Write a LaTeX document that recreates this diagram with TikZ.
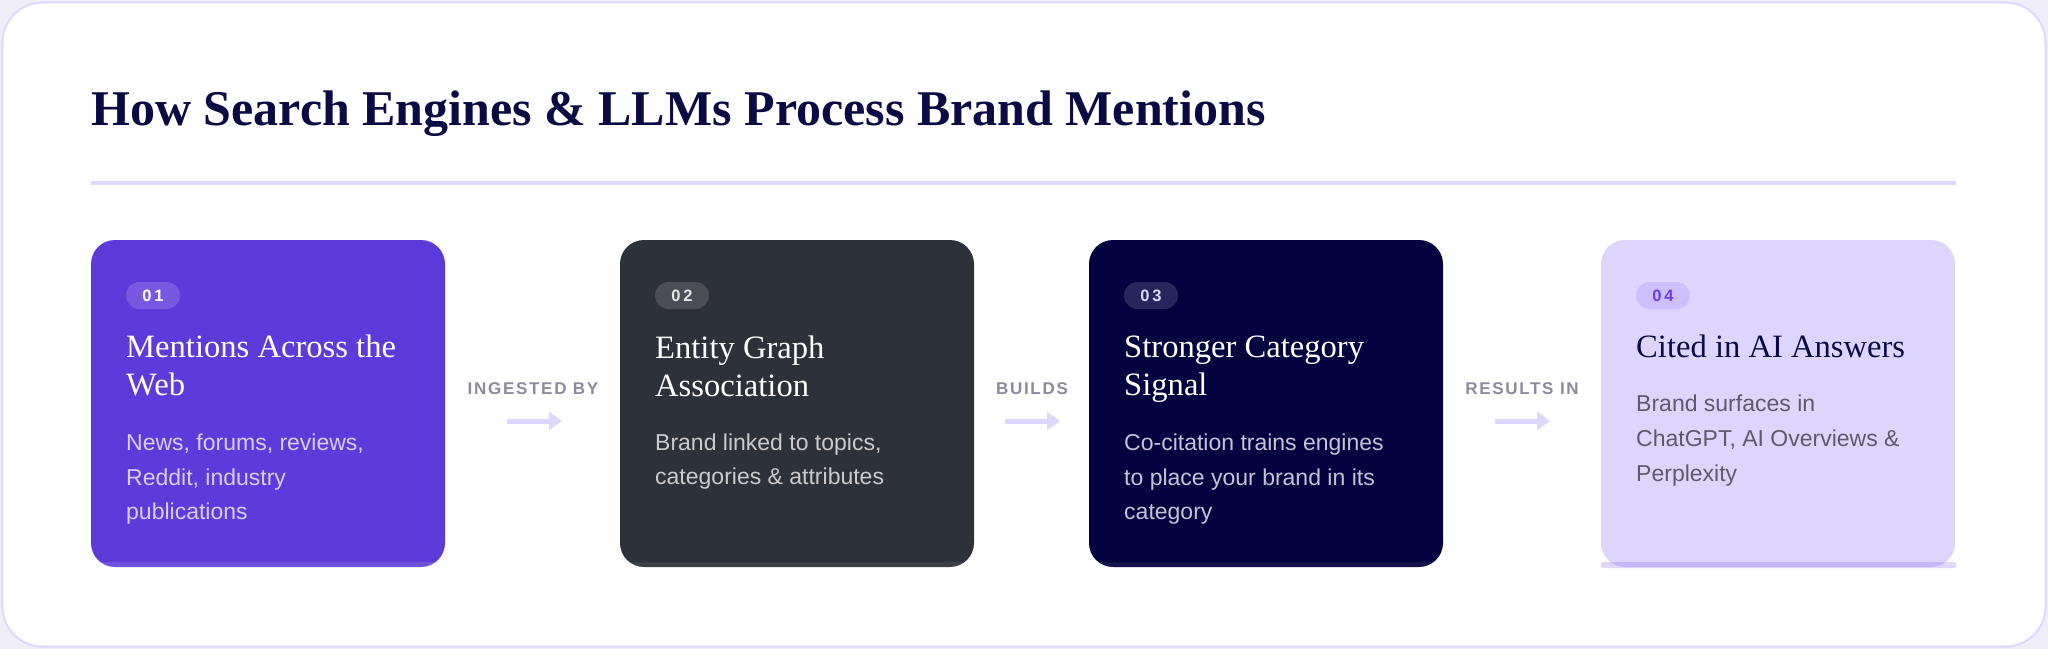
\documentclass[tikz,border=0pt]{standalone}
\usepackage{fontspec}
\setmainfont{Liberation Serif}
\setsansfont{Liberation Sans}
\newfontfamily\lblfont[LetterSpace=10]{Liberation Sans}
\newfontfamily\badgefont[LetterSpace=18]{Liberation Sans}
\usetikzlibrary{arrows.meta}
\definecolor{pageBg}{HTML}{EFEEF8}
\definecolor{frameLine}{HTML}{DDD6FE}
\definecolor{titleInk}{HTML}{0B0A44}
\definecolor{cardA}{HTML}{5D3BDB}
\definecolor{cardB}{HTML}{2D3139}
\definecolor{cardC}{HTML}{030340}
\definecolor{cardD}{HTML}{DDD5FE}
\definecolor{badgeA}{HTML}{7758E1}
\definecolor{badgeB}{HTML}{4B4E56}
\definecolor{badgeC}{HTML}{25265C}
\definecolor{badgeD}{HTML}{CDBFFC}
\definecolor{badgeDInk}{HTML}{6A3DE8}
\definecolor{bodyA}{HTML}{D6CEF6}
\definecolor{bodyB}{HTML}{CBCBCE}
\definecolor{bodyC}{HTML}{C3C3D3}
\definecolor{bodyD}{HTML}{5F5A6A}
\definecolor{labelInk}{HTML}{8F8A9B}
\definecolor{stripD}{HTML}{7C5CEE}
\begin{document}
\begin{tikzpicture}[x=1bp,y=-1bp,
  frame/.style={draw=frameLine, line width=2bp, fill=white, rounded corners=40bp,
    minimum width=2043bp, minimum height=644bp, inner sep=0pt, outer sep=0pt},
  titletext/.style={anchor=base west, inner sep=0pt, text=titleInk,
    font=\rmfamily\bfseries\fontsize{50bp}{60bp}\selectfont},
  rule/.style={draw=frameLine, line width=3.5bp},
  card/.style={anchor=north west, rounded corners=24bp, minimum width=354bp,
    minimum height=327bp, inner sep=0pt, outer sep=0pt},
  badge/.style={rounded corners=13.5bp, minimum width=54bp, minimum height=27bp,
    inner sep=0pt, text height=11.8bp, text depth=0pt,
    font=\badgefont\bfseries\fontsize{16.5bp}{19bp}\selectfont},
  headtext/.style={anchor=base west, inner sep=0pt,
    font=\rmfamily\fontsize{32.6bp}{38bp}\selectfont},
  bodytext/.style={anchor=base west, inner sep=0pt,
    font=\sffamily\fontsize{23bp}{34bp}\selectfont},
  steplabel/.style={anchor=base, inner sep=0pt, text=labelInk,
    font=\lblfont\bfseries\fontsize{17bp}{20bp}\selectfont},
  flowarrow/.style={draw=frameLine, line width=5bp,
    -{Triangle[length=13bp,width=18bp]}}
]
\useasboundingbox (0,0) rectangle (2048,649);
\fill[pageBg] (0,0) rectangle (2048,649);
\node[frame] (frame) at (1024,324.5) {};

% title and rule
\node[titletext] (title) at (91,126) {How Search Engines \& LLMs Process Brand Mentions};
\draw[rule] (91,183) -- (1956,183);

% card 1
\node[card, fill=cardA] (c1) at (91,240) {};
\fill[white, fill opacity=0.12, rounded corners=2bp] (91,562) rectangle (445,568);
\node[badge, fill=badgeA, text=white] (b1) at (153,295.5) {01};
\node[headtext, text=white] (h1a) at (126,357) {Mentions Across the};
\node[headtext, text=white] (h1b) at (126,395) {Web};
\node[bodytext, text=bodyA] (t1a) at (126,450) {News, forums, reviews,};
\node[bodytext, text=bodyA] (t1b) at (126,485) {Reddit, industry};
\node[bodytext, text=bodyA] (t1c) at (126,519) {publications};

% card 2
\node[card, fill=cardB] (c2) at (620,240) {};
\fill[white, fill opacity=0.07, rounded corners=2bp] (620,562) rectangle (974,568);
\node[badge, fill=badgeB, text=white!90!black] (b2) at (682,295.5) {02};
\node[headtext, text=white] (h2a) at (655,358) {Entity Graph};
\node[headtext, text=white] (h2b) at (655,396) {Association};
\node[bodytext, text=bodyB] (t2a) at (655,450) {Brand linked to topics,};
\node[bodytext, text=bodyB] (t2b) at (655,484) {categories \& attributes};

% card 3
\node[card, fill=cardC] (c3) at (1089,240) {};
\fill[white, fill opacity=0.07, rounded corners=2bp] (1089,562) rectangle (1443,568);
\node[badge, fill=badgeC, text=white!85!blue] (b3) at (1151,295.5) {03};
\node[headtext, text=white] (h3a) at (1124,357) {Stronger Category};
\node[headtext, text=white] (h3b) at (1124,395) {Signal};
\node[bodytext, text=bodyC] (t3a) at (1124,450) {Co-citation trains engines};
\node[bodytext, text=bodyC] (t3b) at (1124,485) {to place your brand in its};
\node[bodytext, text=bodyC] (t3c) at (1124,519) {category};

% card 4
\node[card, fill=cardD] (c4) at (1601,240) {};
\fill[stripD, fill opacity=0.24, rounded corners=2bp] (1601,562) rectangle (1956,568);
\node[badge, fill=badgeD, text=badgeDInk] (b4) at (1663,295.5) {04};
\node[headtext, text=titleInk] (h4a) at (1636,357) {Cited in AI Answers};
\node[bodytext, text=bodyD] (t4a) at (1636,411) {Brand surfaces in};
\node[bodytext, text=bodyD] (t4b) at (1636,446) {ChatGPT, AI Overviews \&};
\node[bodytext, text=bodyD] (t4c) at (1636,481) {Perplexity};

% connectors
\node[steplabel] (l1) at (533,394) {INGESTED BY};
\coordinate (a1s) at (507,421);
\coordinate (a1e) at (562,421);
\draw[flowarrow] (a1s) -- (a1e);

\node[steplabel] (l2) at (1032,394) {BUILDS};
\coordinate (a2s) at (1005,421);
\coordinate (a2e) at (1060,421);
\draw[flowarrow] (a2s) -- (a2e);

\node[steplabel] (l3) at (1522,394) {RESULTS IN};
\coordinate (a3s) at (1495,421);
\coordinate (a3e) at (1550,421);
\draw[flowarrow] (a3s) -- (a3e);
\end{tikzpicture}
\end{document}
